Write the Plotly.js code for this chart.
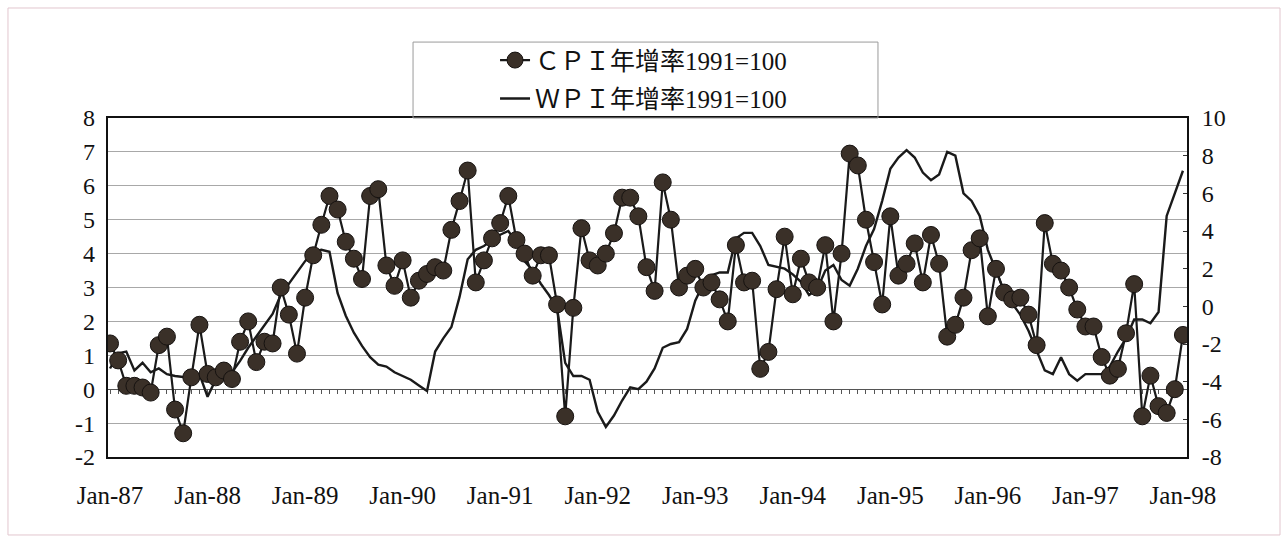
<!DOCTYPE html>
<html>
<head>
<meta charset="utf-8">
<script src="https://cdn.plot.ly/plotly-3.0.1.min.js"></script>
<style>
html,body{margin:0;padding:0;background:#fff;}
#chart{width:1287px;height:541px;}
</style>
</head>
<body>
<div id="chart"></div>
<script>
// Category labels (monthly, Jan-87 .. Jan-98)
const monthNames = ['Jan','Feb','Mar','Apr','May','Jun','Jul','Aug','Sep','Oct','Nov','Dec'];
const years = ['87','88','89','90','91','92','93','94','95','96','97','98'];
const months = [];
years.forEach(function(y, yi){
  monthNames.forEach(function(m, mi){
    if (yi < years.length - 1 || mi === 0) months.push(m + '-' + y);
  });
});

// Axis tick labels
const yearTicks = ['Jan-87','Jan-88','Jan-89','Jan-90','Jan-91','Jan-92','Jan-93','Jan-94','Jan-95','Jan-96','Jan-97','Jan-98'];
const cpiTickVals = [-2,-1,0,1,2,3,4,5,6,7,8];
const cpiTickText = ['-2','-1','0','1','2','3','4','5','6','7','8'];
const wpiTickVals = [-8,-6,-4,-2,0,2,4,6,8,10];
const wpiTickText = ['-8','-6','-4','-2','0','2','4','6','8','10'];

// Series names
const cpiName = 'ＣＰＩ年增率1991=100';
const wpiName = 'ＷＰＩ年增率1991=100';

// CPI year-on-year growth (left axis)
const cpi = [
  1.35,0.85,0.1,0.1,0.05,-0.1,1.3,1.55,-0.6,-1.3,0.35,1.9,
  0.45,0.35,0.55,0.3,1.4,2.0,0.8,1.4,1.35,3.0,2.2,1.05,
  2.7,3.95,4.85,5.7,5.3,4.35,3.85,3.25,5.7,5.9,3.65,3.05,
  3.8,2.7,3.2,3.4,3.6,3.5,4.7,5.55,6.45,3.15,3.8,4.45,
  4.9,5.7,4.4,4.0,3.35,3.95,3.95,2.5,-0.8,2.4,4.75,3.8,
  3.65,4.0,4.6,5.65,5.65,5.1,3.6,2.9,6.1,5.0,3.0,3.35,
  3.55,3.0,3.15,2.65,2.0,4.25,3.15,3.2,0.6,1.1,2.95,4.5,
  2.8,3.85,3.15,3.0,4.25,2.0,4.0,6.95,6.6,5.0,3.75,2.5,
  5.1,3.35,3.7,4.3,3.15,4.55,3.7,1.55,1.9,2.7,4.1,4.45,
  2.15,3.55,2.85,2.65,2.7,2.2,1.3,4.9,3.7,3.5,3.0,2.35,
  1.85,1.85,0.95,0.4,0.6,1.65,3.1,-0.8,0.4,-0.5,-0.7,0.0,
  1.6
];

// WPI year-on-year growth (right axis)
const wpi = [
  -3.3,-2.5,-2.4,-3.4,-3.0,-3.5,-3.3,-3.6,-3.7,-3.75,-3.7,-3.6,
  -4.8,-3.9,-3.7,-3.5,-2.9,-2.2,-1.6,-1.0,-0.4,0.6,1.2,1.8,
  2.4,2.9,3.0,2.9,0.7,-0.5,-1.4,-2.1,-2.7,-3.1,-3.2,-3.5,
  -3.7,-3.9,-4.2,-4.5,-2.4,-1.7,-1.1,0.5,2.5,3.0,3.2,3.5,
  3.8,4.0,3.4,2.4,1.9,1.2,0.6,-0.1,-3.0,-3.7,-3.7,-3.9,
  -5.6,-6.4,-5.8,-5.0,-4.3,-4.4,-4.0,-3.3,-2.2,-2.0,-1.9,-1.2,
  0.3,1.2,1.65,1.8,1.8,3.6,3.9,3.9,3.2,2.2,2.1,2.0,
  1.7,1.3,0.6,0.9,1.9,2.2,1.4,1.1,2.0,3.2,4.1,5.6,
  7.3,7.9,8.3,7.9,7.1,6.7,7.0,8.2,8.0,6.0,5.6,4.8,
  3.0,1.9,0.8,0.15,-0.45,-1.3,-2.4,-3.4,-3.6,-2.7,-3.6,-3.95,
  -3.6,-3.6,-3.6,-3.2,-2.4,-1.7,-0.7,-0.7,-0.9,-0.3,4.8,6.0,
  7.2
];

const serif = 'Liberation Serif, Times New Roman, serif';

const traces = [
  {
    x: months, y: wpi, name: wpiName, type: 'scatter', mode: 'lines',
    xaxis: 'x', yaxis: 'y',
    line: {color: '#1a1a1a', width: 2.4},
    legendrank: 2, legendgroup: 'w', hoverinfo: 'x+y'
  },
  {
    x: months, y: cpi, name: cpiName, type: 'scatter', mode: 'lines+markers',
    xaxis: 'x', yaxis: 'y2',
    line: {color: '#1a1a1a', width: 2.2},
    marker: {size: 17, color: '#3a3028', line: {color: '#161210', width: 1}},
    legendrank: 1, legendgroup: 'c', hoverinfo: 'x+y'
  },
  {
    x: [], y: [], xaxis: 'x2', yaxis: 'y', type: 'scatter', mode: 'lines',
    showlegend: false, hoverinfo: 'skip'
  }
];

const layout = {
  width: 1287, height: 541,
  margin: {l: 108, r: 100, t: 118, b: 84, pad: 0},
  paper_bgcolor: '#ffffff', plot_bgcolor: '#ffffff',
  showlegend: true,
  font: {family: serif, color: '#111'},
  xaxis: {
    type: 'category', range: [-0.25, 132.5],
    tickvals: yearTicks, ticktext: yearTicks,
    ticks: '', showgrid: false, zeroline: false,
    showline: true, mirror: true, linecolor: '#111', linewidth: 2,
    tickfont: {family: serif, size: 25, color: '#111'},
    ticklabelstandoff: 15
  },
  xaxis2: {
    overlaying: 'x', anchor: 'free', position: 0.2, type: 'linear',
    range: [-0.25, 132.5], showline: true, linecolor: '#555', linewidth: 1,
    ticks: 'outside', ticklen: 4, tickcolor: '#555', tickwidth: 1,
    tick0: 0, dtick: 1, showticklabels: false, showgrid: false, zeroline: false,
    layer: 'below traces'
  },
  yaxis: {
    side: 'right', range: [-8, 10],
    tickvals: wpiTickVals, ticktext: wpiTickText,
    ticks: 'inside', ticklen: 4, tickcolor: '#333',
    showgrid: false, zeroline: false,
    showline: true, mirror: true, linecolor: '#111', linewidth: 2,
    tickfont: {family: serif, size: 24, color: '#111'},
    ticklabelstandoff: 8
  },
  yaxis2: {
    overlaying: 'y', side: 'left', range: [-2, 8],
    tickvals: cpiTickVals, ticktext: cpiTickText,
    ticks: '', showgrid: true, gridcolor: '#a8a8a8', gridwidth: 1,
    zeroline: false, showline: false,
    tickfont: {family: serif, size: 24, color: '#111'},
    ticklabelstandoff: 12
  },
  legend: {
    x: 0.3587, y: 1.238, xanchor: 'left', yanchor: 'top',
    bgcolor: 'rgba(0,0,0,0)', borderwidth: 0,
    font: {family: 'Liberation Serif, Noto Sans CJK TC, serif', size: 25, color: '#111'},
    traceorder: 'grouped', tracegroupgap: 3
  },
  shapes: [
    {type: 'rect', xref: 'paper', yref: 'paper', x0: 0.2827, x1: 0.7136, y0: 1.0, y1: 1.224,
     line: {color: '#9a9a9a', width: 1}, fillcolor: 'rgba(0,0,0,0)', layer: 'above'},
    {type: 'rect', xref: 'paper', yref: 'paper', x0: -0.0927, x1: 1.0862, y0: -0.230, y1: 1.3245,
     line: {color: '#e2c6ce', width: 1}, fillcolor: 'rgba(0,0,0,0)', layer: 'below'}
  ]
};

Plotly.newPlot('chart', traces, layout, {displayModeBar: false, staticPlot: true});
</script>
</body>
</html>
